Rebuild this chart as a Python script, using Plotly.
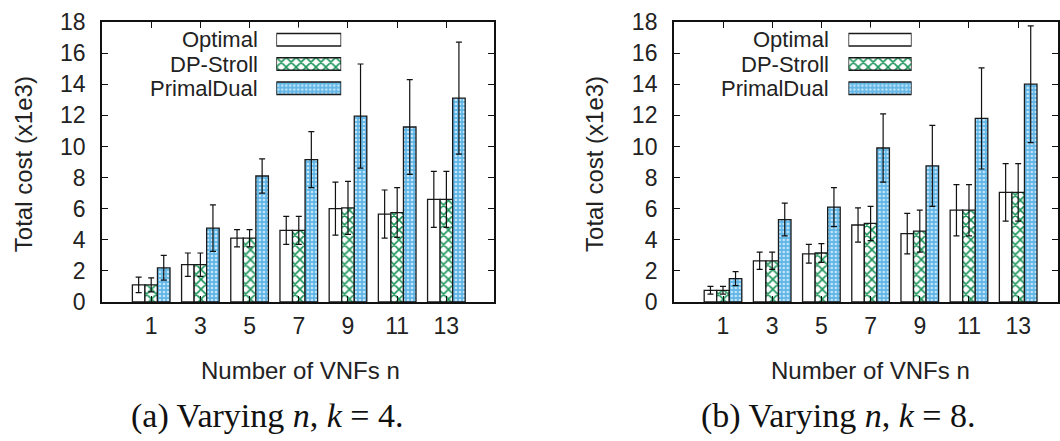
import plotly.graph_objects as go

# ---------------- data ----------------
n_vals = [1, 3, 5, 7, 9, 11, 13]
series = ["Optimal", "DP-Stroll", "PrimalDual"]

# (a) k = 4
opt_a = [1.1, 2.4, 4.1, 4.6, 6.0, 5.65, 6.6]
opt_a_err = [0.5, 0.75, 0.55, 0.9, 1.7, 1.55, 1.8]
dp_a = [1.1, 2.4, 4.1, 4.6, 6.05, 5.75, 6.6]
dp_a_err = [0.45, 0.75, 0.55, 0.9, 1.7, 1.6, 1.8]
pd_a = [2.2, 4.75, 8.1, 9.15, 11.95, 11.25, 13.1]
pd_a_err = [0.8, 1.5, 1.1, 1.8, 3.35, 3.05, 3.6]

# (b) k = 8
opt_b = [0.75, 2.65, 3.1, 4.95, 4.4, 5.9, 7.05]
opt_b_err = [0.25, 0.55, 0.6, 1.1, 1.3, 1.65, 1.85]
dp_b = [0.75, 2.65, 3.15, 5.05, 4.55, 5.9, 7.05]
dp_b_err = [0.25, 0.55, 0.6, 1.1, 1.35, 1.65, 1.85]
pd_b = [1.5, 5.3, 6.1, 9.9, 8.75, 11.8, 14.0]
pd_b_err = [0.45, 1.05, 1.25, 2.2, 2.6, 3.25, 3.75]

y_ticks = [0, 2, 4, 6, 8, 10, 12, 14, 16, 18]
x_title = "Number of VNFs n"
y_title = "Total cost (x1e3)"
captions = ["(a) Varying <i>n</i>, <i>k</i> = 4.", "(b) Varying <i>n</i>, <i>k</i> = 8."]

# ---------------- styles ----------------
SANS = "Liberation Sans"
SERIF = "Liberation Serif"
TXT = "#222222"
EDGE = "#1a1a1a"

styles = {
    "Optimal": dict(color="#ffffff", pattern=dict(shape="")),
    "DP-Stroll": dict(color="#ffffff",
                      pattern=dict(shape="x", fgcolor="#1b955a", bgcolor="#ffffff",
                                   size=7, solidity=0.4, fillmode="replace")),
    "PrimalDual": dict(color="#5fb5e6",
                       pattern=dict(shape=".", fgcolor="#c4e6f8", bgcolor="#5fb5e6",
                                    size=4, solidity=0.35, fillmode="replace")),
}

W, H = 1060, 441
ML, MR, MT, MB = 102, 0, 22, 139
PW = W - ML - MR
PH = H - MT - MB


def px(xp):
    return (xp - ML) / PW


def py(yp):
    return (H - MB - yp) / PH


fig = go.Figure()

panels = [
    ("x", "y", [opt_a, dp_a, pd_a], [opt_a_err, dp_a_err, pd_a_err]),
    ("x2", "y2", [opt_b, dp_b, pd_b], [opt_b_err, dp_b_err, pd_b_err]),
]

for xa, ya, vals, errs in panels:
    for name, v, e in zip(series, vals, errs):
        st = styles[name]
        fig.add_trace(go.Bar(
            x=n_vals, y=v, name=name, xaxis=xa, yaxis=ya, showlegend=False,
            marker=dict(color=st["color"], pattern=st["pattern"],
                        line=dict(color=EDGE, width=1.3)),
            error_y=dict(type="data", array=e, visible=True, color="#111111",
                         thickness=1.2, width=3),
        ))

# ---------------- manual legends (text left, swatch right) ----------------
legend_axes = [("x3", "y3"), ("x4", "y4")]
for xa, ya in legend_axes:
    for name in series:
        st = styles[name]
        fig.add_trace(go.Bar(
            x=[1], y=[name], orientation="h", xaxis=xa, yaxis=ya, showlegend=False,
            width=0.52, offset=-0.26, hoverinfo="skip",
            marker=dict(color=st["color"], pattern=st["pattern"],
                        line=dict(color=EDGE, width=1.5)),
        ))

legend_text_right = [260.0, 833.0]
legend_rows_y = [39.7, 64.2, 88.2]

annotations = []
for xr in legend_text_right:
    for name, yy in zip(series, legend_rows_y):
        annotations.append(dict(
            text=name, x=px(xr), y=py(yy), xref="paper", yref="paper",
            xanchor="right", yanchor="middle", showarrow=False,
            font=dict(family=SANS, size=22, color=TXT)))

# axis titles
for cx in [300.8, 871.7]:
    annotations.append(dict(
        text=x_title, x=px(cx), y=py(370.5), xref="paper", yref="paper",
        xanchor="center", yanchor="middle", showarrow=False,
        font=dict(family=SANS, size=24, color=TXT)))
for cx in [23.0, 595.0]:
    annotations.append(dict(
        text=y_title, x=px(cx), y=py(164.0), xref="paper", yref="paper",
        xanchor="center", yanchor="middle", showarrow=False, textangle=-90,
        font=dict(family=SANS, size=24, color=TXT)))
# captions
for cx, cap in zip([268.0, 840.0], captions):
    annotations.append(dict(
        text=cap, x=px(cx), y=py(416.0), xref="paper", yref="paper",
        xanchor="center", yanchor="middle", showarrow=False,
        font=dict(family=SERIF, size=34, color="#111111")))

common_x = dict(tickvals=n_vals, ticks="inside", ticklen=6, tickwidth=1.2,
                tickcolor="#111111", showline=True, linecolor="#111111",
                linewidth=1.5, mirror="ticks", showgrid=False, zeroline=False,
                tickfont=dict(family=SANS, size=23, color=TXT),
                ticklabelstandoff=3, fixedrange=True)
common_y = dict(range=[0, 18], tickvals=y_ticks, ticks="inside", ticklen=6,
                tickwidth=1.2, tickcolor="#111111", showline=True,
                linecolor="#111111", linewidth=1.5, mirror="ticks",
                showgrid=False, zeroline=False,
                tickfont=dict(family=SANS, size=23, color=TXT),
                ticklabelstandoff=10, fixedrange=True)

x1_dom = [0.0, px(495.0)]
x2_dom = [px(675.0), 1.0]
span_units = 2 * (495.0 - 102.0) / 49.3  # 2 units of n per category slot
x2_span = 2 * (1060.0 - 675.0) / 49.3

leg_y_dom = [py(100.3), py(27.6)]

fig.update_layout(
    width=W, height=H,
    margin=dict(l=ML, r=MR, t=MT, b=MB),
    paper_bgcolor="white", plot_bgcolor="white",
    barmode="group", bargap=0.235, bargroupgap=0.0,
    showlegend=False,
    xaxis=dict(domain=x1_dom, range=[-1, -1 + span_units], anchor="y", **common_x),
    yaxis=dict(domain=[0, 1], anchor="x", **common_y),
    xaxis2=dict(domain=x2_dom, range=[-1, -1 + x2_span], anchor="y2", **common_x),
    yaxis2=dict(domain=[0, 1], anchor="x2", **common_y),
    xaxis3=dict(domain=[px(276.7), px(341.7)], range=[0, 1], anchor="y3",
                visible=False, fixedrange=True),
    yaxis3=dict(domain=leg_y_dom, anchor="x3", type="category",
                categoryorder="array", categoryarray=series[::-1],
                range=[-0.5, 2.5], visible=False, fixedrange=True),
    xaxis4=dict(domain=[px(850.0), px(913.3)], range=[0, 1], anchor="y4",
                visible=False, fixedrange=True),
    yaxis4=dict(domain=leg_y_dom, anchor="x4", type="category",
                categoryorder="array", categoryarray=series[::-1],
                range=[-0.5, 2.5], visible=False, fixedrange=True),
    annotations=annotations,
)

fig.write_html("out.html")
